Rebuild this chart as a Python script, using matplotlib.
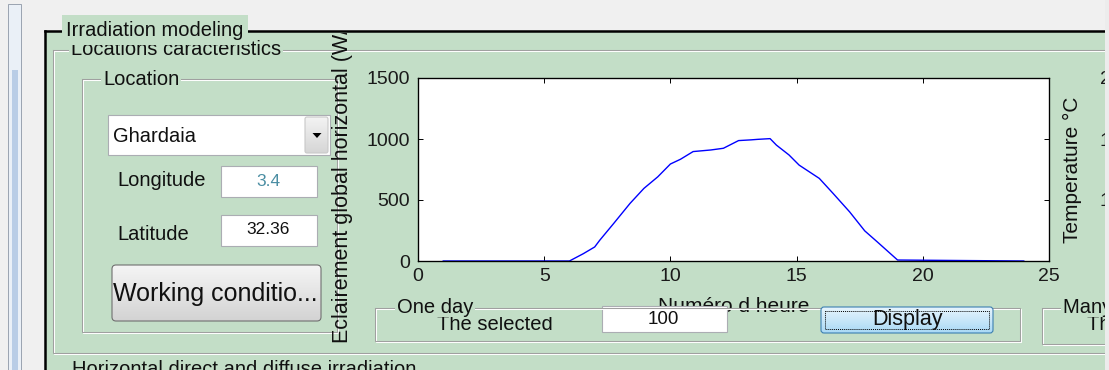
import numpy as np
import matplotlib
matplotlib.use("Agg")
import matplotlib.pyplot as plt
from matplotlib.patches import Rectangle, FancyBboxPatch, Polygon
from matplotlib.colors import LinearSegmentedColormap
from matplotlib.transforms import Bbox

plt.rcParams['font.family'] = ['Liberation Sans', 'DejaVu Sans']

# values (one day, global horizontal irradiance)
hours = [1, 6, 6.55, 7.0, 7.2, 7.75, 8.4, 8.95, 9.5, 10.0, 10.4, 10.9, 11.6, 12.1,
         12.7, 13.2, 13.45, 13.95, 14.2, 14.7, 15.1, 15.9, 16.45, 17.1, 17.7, 18.2, 19.0, 24]
irradiance = [0, 0, 60, 115, 170, 307, 472, 595, 690, 795, 834, 897, 910, 924,
              987, 993, 997, 1003, 950, 869, 786, 677, 553, 403, 247, 156, 8, 0]
x_ticks = [0, 5, 10, 15, 20, 25]
y_ticks = [0, 500, 1000, 1500]
temp_ticks = [10, 15, 20]

location = "Ghardaia"
longitude = "3.4"
latitude = "32.36"
day = "100"

W, H = 1109, 370
green = '#c3dec7'
etch = '#a0a0a0'
txt = '#101010'

fig = plt.figure(figsize=(W / 100, H / 100), dpi=100)
fig.patch.set_facecolor('#f0f0f0')


def layer(z):
    a = fig.add_axes([0, 0, 1, 1])
    a.set_xlim(0, W)
    a.set_ylim(H, 0)
    a.axis('off')
    a.set_zorder(z)
    return a


def clip_top(t, y):
    # hide everything of a text above pixel row y
    t.set_clip_box(Bbox.from_extents(0, 0, W, H - y))
    t.set_clip_on(True)


bg = layer(0)


def frame(a, x0, y0, x1, y1):
    # etched border of a uipanel
    for off, c in ((1, 'white'), (0, etch)):
        a.plot([x0 + off, x1 + off, x1 + off, x0 + off, x0 + off],
               [y0 + off, y0 + off, y1 + off, y1 + off, y0 + off],
               color=c, lw=0.75, solid_joinstyle='miter')


def title(a, x, y, s, size=14.5):
    return a.text(x, y, s, fontsize=size, color=txt, va='baseline',
                  bbox=dict(fc=green, ec='none', pad=1.5))


def gradient(a, x0, y0, w, h, c1, c2, ec, r=3, z=2):
    p = FancyBboxPatch((x0, y0), w, h, boxstyle=f"round,pad=0,rounding_size={r}",
                       fc='none', ec=ec, lw=0.8, zorder=z + 1)
    a.add_patch(p)
    cmap = LinearSegmentedColormap.from_list('g', [c1, c2])
    im = a.imshow(np.linspace(0, 1, 64).reshape(-1, 1), cmap=cmap,
                  extent=(x0, x0 + w, y0 + h, y0), aspect='auto',
                  interpolation='bilinear', zorder=z)
    im.set_clip_path(p)


# window edge / scroll bar on the left
bg.add_patch(Rectangle((8, 4), 13, H, fc='#eaf0f7', ec='#9aa3b0', lw=0.7))
bg.add_patch(Rectangle((12, 70), 6, H, fc='#b9cde6', ec='none'))

# main green panel with black border
bg.add_patch(Rectangle((46, 31), W, H, fc=green, ec='none'))
bg.plot([45, W], [31, 31], color='black', lw=1.8)
bg.plot([45, 45], [31, H], color='black', lw=1.8)

frame(bg, 53, 50, W + 10, 353)
title(bg, 71, 55, "Locations caracteristics")
bg.add_patch(Rectangle((62, 15), 186, 30, fc=green, ec='none', zorder=3))
bg.text(66, 36, "Irradiation modeling", fontsize=14.5, color=txt, zorder=4)

frame(bg, 82, 79, 337, 332)
title(bg, 103, 85, "Location")

# popup menu
bg.add_patch(Rectangle((108, 115), 222, 40, fc='white', ec='#abadb3', lw=0.8))
gradient(bg, 305, 117, 23, 36, '#f3f3f3', '#d6d6d6', '#c8c8c8', r=2)
bg.add_patch(Polygon([(312.5, 133), (321.5, 133), (317, 138)], closed=True,
                     fc='black', ec='none', zorder=5))
bg.text(113, 136, location, fontsize=14.5, color=txt, va='center')

# longitude / latitude
bg.text(117, 181, "Longitude", fontsize=14.5, color=txt, va='center')
bg.add_patch(Rectangle((221, 166), 96, 31, fc='white', ec='#abadb3', lw=0.8))
bg.text(268, 182, longitude, fontsize=12.5, color='#4b8ea3', ha='center', va='center')
bg.text(117, 234, "Latitude", fontsize=14.5, color=txt, va='center')
bg.add_patch(Rectangle((221, 215), 96, 31, fc='white', ec='#abadb3', lw=0.8))
bg.text(268, 230, latitude, fontsize=12.5, color=txt, ha='center', va='center')

# button
gradient(bg, 112, 265, 209, 56, '#f5f5f5', '#d3d3d3', '#707070', r=4)
bg.text(113, 294, "Working conditio...", fontsize=18, color=txt, va='center', zorder=6)

bg.text(72, 375, "Horizontal direct and diffuse irradiation", fontsize=14.5,
        color=txt, va='baseline')

# plot area
ax = fig.add_axes([418 / W, (H - 261) / H, (1049 - 418) / W, (261 - 78) / H])
ax.set_zorder(1)
ax.set_facecolor('white')
ax.plot(hours, irradiance, color='#0000ff', lw=1.0)
ax.set_xlim(0, 25)
ax.set_ylim(0, 1500)
ax.set_xticks(x_ticks)
ax.set_yticks(y_ticks)
ax.tick_params(direction='in', length=3.8, width=0.7, top=True, right=False,
               labelsize=14, labelcolor='#1a1a1a')
ax.tick_params(axis='x', pad=5.3)
ax.tick_params(axis='y', pad=5.8)
for s in ax.spines.values():
    s.set_linewidth(0.9)
ax.set_xlabel("Numéro d heure", fontsize=15, color=txt)
ax.xaxis.set_label_coords(0.5, -0.197)
ax.set_ylabel("Eclairement global horizontal (W/m²)", fontsize=15.5, color=txt)
ax.yaxis.set_label_coords(-0.1036, 0.5)
clip_top(ax.yaxis.label, 33)

ax2 = ax.twinx()
ax2.set_zorder(2)
ax2.set_ylim(5, 20)
ax2.set_yticks(temp_ticks)
ax2.tick_params(direction='in', length=3.8, width=0.7, pad=36.7,
                labelsize=14, labelcolor='#1a1a1a')
ax2.set_ylabel("Temperature °C", fontsize=15, color=txt)
ax2.yaxis.set_label_coords(1.022, 0.5)

# controls drawn over the plot
fg = layer(3)
fg.patch.set_visible(False)

frame(fg, 375, 308, 1020, 341)
title(fg, 397, 313, "One day")
clip_top(fg.text(437, 330, "The selected", fontsize=14.5, color=txt, va='baseline'), 317)
fg.add_patch(Rectangle((602, 306), 125, 26, fc='white', ec='#abadb3', lw=0.8))
fg.text(663, 319, day, fontsize=13.5, color=txt, ha='center', va='center')

gradient(fg, 821, 307, 172, 26, '#e8f5fd', '#a9d9f5', '#3c7fb1', r=3)
fg.add_patch(Rectangle((825, 311), 164, 18, fc='none', ec='black', lw=0.7,
                       ls=(0, (1, 1)), zorder=5))
fg.text(907, 320, "Display", fontsize=15.5, color=txt, ha='center', va='center', zorder=6)

frame(fg, 1042, 308, W + 20, 344)
title(fg, 1063, 313, "Many days")
clip_top(fg.text(1087, 330, "The selected", fontsize=14.5, color=txt, va='baseline'), 317)

fg.add_patch(Rectangle((1105, 0), 10, H, fc='#ececec', ec='none', zorder=8))

for a in (bg, fg):
    a.set_xlim(0, W)
    a.set_ylim(H, 0)

fig.savefig("out.png", dpi=100, facecolor=fig.get_facecolor())
